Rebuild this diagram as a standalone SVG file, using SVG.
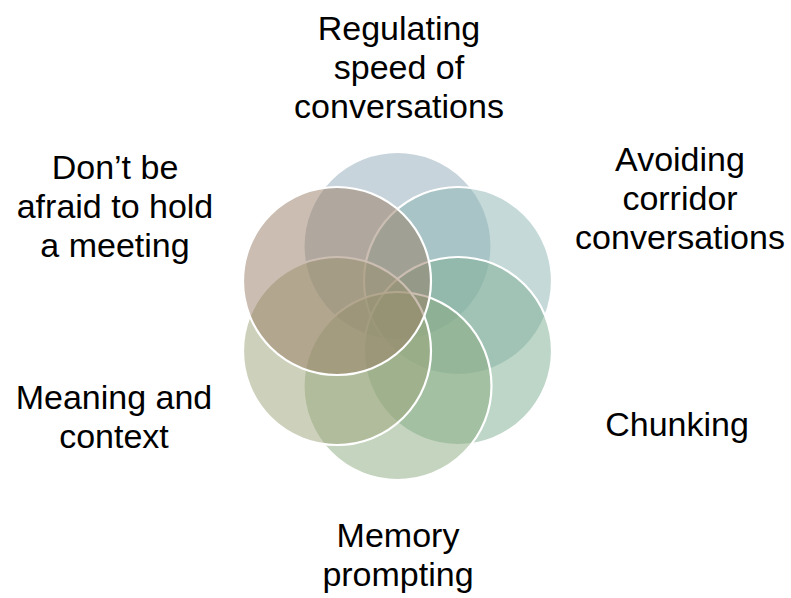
<svg xmlns="http://www.w3.org/2000/svg" width="791" height="598" viewBox="0 0 791 598">
  <style>
    .ring { stroke: #ffffff; stroke-width: 2.2; fill-opacity: 0.5; }
    .label { font-family: "Liberation Sans", Arial, sans-serif; font-size: 34px; fill: #000000; text-anchor: middle; }
  </style>
  <rect width="791" height="598" fill="#ffffff"/>

  <!-- six overlapping circles on a hexagon around (397.5, 316) -->
  <g id="circles">
    <g id="node-regulating"><circle class="ring" cx="397.5" cy="246" r="94" fill="#91A9B7"/></g>
    <g id="node-corridor"><circle class="ring" cx="458" cy="281" r="94" fill="#89B3B1"/></g>
    <g id="node-chunking"><circle class="ring" cx="458" cy="351" r="94" fill="#7BAD91"/></g>
    <g id="node-memory"><circle class="ring" cx="397.5" cy="386" r="94" fill="#89A97D"/></g>
    <g id="node-meaning"><circle class="ring" cx="337" cy="351" r="94" fill="#9BA377"/></g>
    <g id="node-meeting"><circle class="ring" cx="337" cy="281" r="94" fill="#977B63"/></g>
  </g>

  <g id="connectors"></g>

  <g id="labels">
    <text class="label" x="399" y="40">Regulating</text>
    <text class="label" x="399" y="79">speed of</text>
    <text class="label" x="399" y="118">conversations</text>

    <text class="label" x="680" y="171">Avoiding</text>
    <text class="label" x="680" y="210">corridor</text>
    <text class="label" x="680" y="249">conversations</text>

    <text class="label" x="677" y="436">Chunking</text>

    <text class="label" x="398" y="547">Memory</text>
    <text class="label" x="398" y="586">prompting</text>

    <text class="label" x="114" y="409">Meaning and</text>
    <text class="label" x="114" y="448">context</text>

    <text class="label" x="115" y="179">Don’t be</text>
    <text class="label" x="115" y="218">afraid to hold</text>
    <text class="label" x="115" y="257">a meeting</text>
  </g>
</svg>
